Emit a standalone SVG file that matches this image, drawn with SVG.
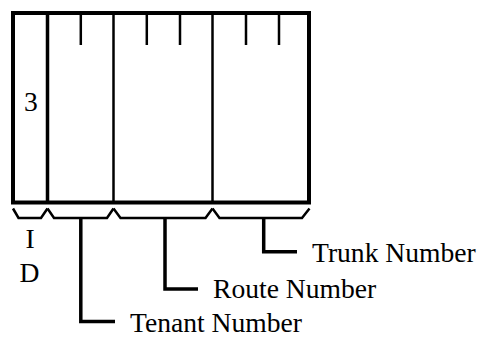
<svg xmlns="http://www.w3.org/2000/svg" width="479" height="338" viewBox="0 0 479 338">
<style>
.box{fill:none;stroke:#000;stroke-width:4}
.div{stroke:#000;stroke-width:2.5}
.tick{stroke:#000;stroke-width:2.5}
.brace{fill:none;stroke:#000;stroke-width:2.5;stroke-linejoin:miter}
.lead{fill:none;stroke:#000;stroke-width:3.5}
text{font-family:"Liberation Serif","Times New Roman",serif;font-size:27.6px;fill:#000}
</style>
<rect width="479" height="338" fill="#fff"/>
<g id="record">
<rect class="box" x="13" y="13" width="296" height="189.5"/>
<line class="div" x1="47.5" y1="13" x2="47.5" y2="202" style="stroke-width:3.5"/>
<line class="div" x1="113.5" y1="13" x2="113.5" y2="202"/>
<line class="div" x1="212.5" y1="13" x2="212.5" y2="202"/>
<line class="tick" x1="80.8" y1="13" x2="80.8" y2="45"/>
<line class="tick" x1="146.8" y1="13" x2="146.8" y2="45"/>
<line class="tick" x1="180" y1="13" x2="180" y2="45"/>
<line class="tick" x1="246" y1="13" x2="246" y2="45"/>
<line class="tick" x1="279" y1="13" x2="279" y2="45"/>
<text x="31" y="110.5" text-anchor="middle">3</text>
</g>
<g id="braces">
<polyline class="brace" points="13,208.5 18.5,218 41,218 47.5,208.5"/>
<polyline class="brace" points="47.5,208.5 54,218 107,218 113.5,208.5"/>
<polyline class="brace" points="113.5,208.5 120.5,218 205.5,218 212.5,208.5"/>
<polyline class="brace" points="212.5,208.5 219.5,218 302,218 309.5,208.5"/>
</g>
<g id="id-label">
<text x="30" y="248" text-anchor="middle">I</text>
<text x="29.5" y="281.5" text-anchor="middle">D</text>
</g>
<g id="connectors">
<polyline class="lead" points="80.8,218 80.8,321.5 115,321.5"/>
<polyline class="lead" points="165,218 165,289 198,289"/>
<polyline class="lead" points="263.7,218 263.7,251.7 297,251.7"/>
</g>
<g id="trunk-number"><text x="312" y="262">Trunk Number</text></g>
<g id="route-number"><text x="213" y="298">Route Number</text></g>
<g id="tenant-number"><text x="130" y="331.5">Tenant Number</text></g>
</svg>
